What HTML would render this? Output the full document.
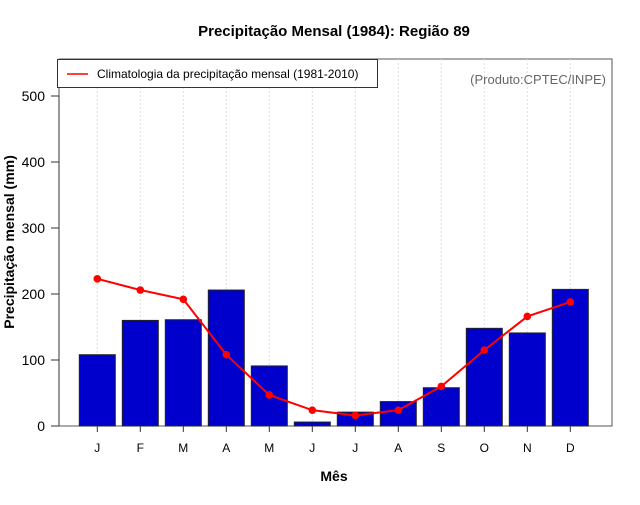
<!DOCTYPE html>
<html><head><meta charset="utf-8"><style>
body{margin:0;background:#fff;font-family:"Liberation Sans",sans-serif}
</style></head><body>
<svg id="chart" width="640" height="500" xmlns="http://www.w3.org/2000/svg" font-family="Liberation Sans, sans-serif">
<text x="334" y="36" text-anchor="middle" font-size="15" font-weight="bold">Precipitação Mensal (1984): Região 89</text>
<rect x="59" y="59" width="553" height="367" fill="none" stroke="#555" stroke-width="1"/>
<g id="grid"></g><g id="bars"></g><g id="line"></g><g id="axes"></g>
<rect x="57.5" y="59.5" width="320" height="28" fill="#fff" stroke="#333"/>
<line x1="67" y1="74" x2="88" y2="74" stroke="red" stroke-width="1.5"/>
<text x="97" y="78" font-size="12">Climatologia da precipitação mensal (1981-2010)</text>
<text x="606" y="84" text-anchor="end" font-size="13" fill="#666">(Produto:CPTEC/INPE)</text>
<text x="334" y="481" text-anchor="middle" font-size="14" font-weight="bold">Mês</text>
<text transform="translate(14,242) rotate(-90)" text-anchor="middle" font-size="14" font-weight="bold">Precipitação mensal (mm)</text>
</svg>
<script>
const months=["J","F","M","A","M","J","J","A","S","O","N","D"];
const observed=[108,160,161,206,91,6,21,37,58,148,141,207];
const climatology=[223,206,192,108,47,24,16,24,60,115,166,188];
const yTicks=[0,100,200,300,400,500];
const NS="http://www.w3.org/2000/svg";
const x=i=>97.3+i*43;
const y=v=>426-v*0.66;
function mk(tag,attrs,parent,text){const e=document.createElementNS(NS,tag);for(const k in attrs)e.setAttribute(k,attrs[k]);if(text!==undefined)e.textContent=text;document.getElementById(parent).appendChild(e);return e;}
months.forEach((m,i)=>{
 const g=mk('line',{x1:x(i),x2:x(i),y1:59,y2:426,stroke:'#ddd','stroke-dasharray':'2,2'},'grid');
 
 
 const b=mk('rect',{x:x(i)-18,y:y(observed[i]),width:36,height:426-y(observed[i]),fill:'#0000cc',stroke:'#222','stroke-width':1},'bars');
 
 
 const t=mk('line',{x1:x(i),x2:x(i),y1:426,y2:432,stroke:'#333'},'axes');
 
 
 const l=mk('text',{x:x(i),y:452,'text-anchor':'middle','font-size':12},'axes',m);
 
 
});
const pl=mk('polyline',{points:climatology.map((v,i)=>x(i)+','+y(v)).join(' '),fill:'none',stroke:'red','stroke-width':2},'line');


climatology.forEach((v,i)=>{
 const c=mk('circle',{cx:x(i),cy:y(v),r:3.8,fill:'red'},'line');
 
 
});
const ax=mk('line',{x1:59,x2:59,y1:y(500),y2:426,stroke:'#333'},'axes');


yTicks.forEach(v=>{
 const t=mk('line',{x1:51,x2:59,y1:y(v),y2:y(v),stroke:'#333'},'axes');
 
 
 const l=mk('text',{x:45,y:y(v)+5,'text-anchor':'end','font-size':14},'axes',String(v));
 
 
});
</script>
</body></html>
